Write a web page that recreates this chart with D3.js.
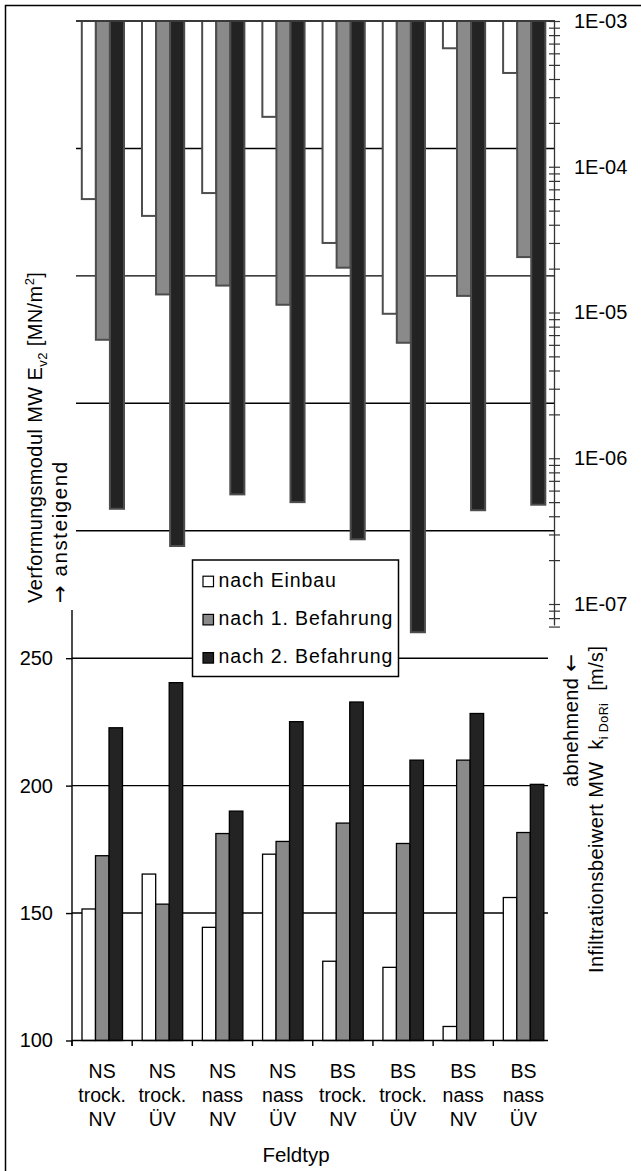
<!DOCTYPE html>
<html><head><meta charset="utf-8">
<script src="https://cdn.jsdelivr.net/npm/d3@7"></script>
<style>
body{margin:0;background:#fff}
svg{display:block}
text{font-family:"Liberation Sans",Arial,sans-serif;fill:#000}
</style>
</head><body>
<svg id="c" width="641" height="1171"></svg>
<script>
// ---- data ----
const categories = ["NS|trock.|NV","NS|trock.|ÜV","NS|nass|NV","NS|nass|ÜV","BS|trock.|NV","BS|trock.|ÜV","BS|nass|NV","BS|nass|ÜV"];
const seriesNames = ["nach Einbau","nach 1. Befahrung","nach 2. Befahrung"];
// Verformungsmodul MW Ev2 [MN/m²]
const evEinbau = [151.6,165.3,144.4,173.1,131.1,128.7,105.5,156.1];
const evBef1   = [172.5,153.5,181.2,178.1,185.3,177.3,210.0,181.6];
const evBef2   = [222.7,240.4,190.0,225.1,232.8,210.0,228.3,200.5];
// Infiltrationsbeiwert MW ki DoRi [m/s]
const kEinbau = [6.0e-5,4.6e-5,6.6e-5,2.2e-4,3.0e-5,9.8e-6,6.5e-4,4.4e-4];
const kBef1   = [6.5e-6,1.33e-5,1.53e-5,1.13e-5,2.03e-5,6.2e-6,1.3e-5,2.4e-5];
const kBef2   = [4.5e-7,2.5e-7,5.65e-7,5.0e-7,2.78e-7,6.4e-8,4.4e-7,4.8e-7];
const evTickValues = [100,150,200,250];
const evGridLow = [150,200,250];
const evGridHigh = [300,350,400,450];
const kTickValues = [1e-3,1e-4,1e-5,1e-6,1e-7];
const kTickLabels = ["1E-03","1E-04","1E-05","1E-06","1E-07"];

const fills = ["#ffffff","#8a8a8a","#232323"];
const evSeries = [evEinbau, evBef1, evBef2];
const kSeries = [kEinbau, kBef1, kBef2];

const svg = d3.select("#c");

// ---- scales ----
const x = d3.scaleBand().domain(d3.range(categories.length)).range([72,553.5]).padding(0);
const subBottom = d3.scaleBand().domain([0,1,2]).range([10,50.5]);
const subTop = d3.scaleBand().domain([0,1,2]).range([9.8,52]);
const yLin = d3.scaleLinear().domain([100,500]).range([1040.5,21]);
const yLog = d3.scaleLog().domain([1e-3,1e-7]).range([21,604]);
const kMin = 7e-8;

// frame
svg.append("path").attr("d","M5.5,1171V5.5H641").attr("fill","none").attr("stroke","#000").attr("stroke-width",1.5);

// gridlines
svg.append("g").selectAll("line").data(evGridLow).join("line")
  .attr("x1",72).attr("x2",548).attr("y1",d=>yLin(d)).attr("y2",d=>yLin(d))
  .attr("stroke","#000").attr("stroke-width",1.4);
svg.append("g").selectAll("line").data(evGridHigh).join("line")
  .attr("x1",76).attr("x2",555).attr("y1",d=>yLin(d)).attr("y2",d=>yLin(d))
  .attr("stroke","#000").attr("stroke-width",1.4);

// top bars (log, hanging)
kSeries.forEach((arr,s)=>{
  svg.append("g").selectAll("rect").data(arr).join("rect")
    .attr("x",(d,i)=>x(i)+subTop(s))
    .attr("y",yLog(1e-3))
    .attr("width",subTop.bandwidth())
    .attr("height",d=>yLog(d)-yLog(1e-3))
    .attr("fill",fills[s]).attr("stroke","#4d4d4d").attr("stroke-width",2);
});
// top baseline
svg.append("line").attr("x1",76).attr("x2",555).attr("y1",yLog(1e-3)).attr("y2",yLog(1e-3))
  .attr("stroke","#3a3a3a").attr("stroke-width",2.2);

// bottom bars
evSeries.forEach((arr,s)=>{
  svg.append("g").selectAll("rect").data(arr).join("rect")
    .attr("x",(d,i)=>x(i)+subBottom(s))
    .attr("y",d=>yLin(d))
    .attr("width",subBottom.bandwidth())
    .attr("height",d=>yLin(100)-yLin(d))
    .attr("fill",fills[s]).attr("stroke","#000").attr("stroke-width",1.3);
});

// right log axis
const minorK = [];
for(let e=-8;e<=-3;e++){for(let k=1;k<=9;k++){const v=k*Math.pow(10,e); if(v>=kMin*0.999 && v<=1e-3*1.0001) minorK.push(v);}}
svg.append("line").attr("x1",554.5).attr("x2",554.5).attr("y1",yLog(1e-3)).attr("y2",yLog(kMin)-1)
  .attr("stroke","#333").attr("stroke-width",1.3);
const rTicks = svg.append("g").attr("transform","translate(549,0)")
  .call(d3.axisRight(yLog).tickValues(minorK).tickSize(11).tickFormat(""));
rTicks.select(".domain").remove();
rTicks.selectAll("line").attr("stroke","#333").attr("stroke-width",1.2);
const rLab = svg.append("g").attr("transform","translate(554.5,0)")
  .call(d3.axisRight(yLog).tickValues(kTickValues).tickSize(0).tickPadding(19.5).tickFormat((d,i)=>kTickLabels[i]));
rLab.select(".domain").remove();
rLab.selectAll("text").attr("font-size",20).attr("font-family","Liberation Sans, Arial, sans-serif").attr("fill","#1a1a1a");

// left linear axis
svg.append("line").attr("x1",72).attr("x2",72).attr("y1",610).attr("y2",1046)
  .attr("stroke","#000").attr("stroke-width",1.4);
const lAx = svg.append("g").attr("transform","translate(72,0)")
  .call(d3.axisLeft(yLin).tickValues(evTickValues).tickSize(6).tickPadding(13));
lAx.select(".domain").remove();
lAx.selectAll("line").attr("stroke","#000").attr("stroke-width",1.4);
lAx.selectAll("text").attr("font-size",20).attr("font-family","Liberation Sans, Arial, sans-serif").attr("fill","#000");

// x axis
svg.append("line").attr("x1",72).attr("x2",548).attr("y1",yLin(100)).attr("y2",yLin(100))
  .attr("stroke","#000").attr("stroke-width",1.4);
svg.append("g").selectAll("line").data(d3.range(categories.length)).join("line")
  .attr("x1",d=>x(d)).attr("x2",d=>x(d)).attr("y1",yLin(100)).attr("y2",yLin(100)+5.5)
  .attr("stroke","#000").attr("stroke-width",1.4);

// category labels
const cl = svg.append("g").selectAll("text").data(categories).join("text")
  .attr("x",(d,i)=>x(i)+x.bandwidth()/2).attr("y",1078)
  .attr("text-anchor","middle").attr("font-size",19.5);
cl.each(function(d){
  const t=d3.select(this);
  d.split("|").forEach((p,j)=>{
    t.append("tspan").attr("x",t.attr("x")).attr("dy",j===0?0:24).text(p);
  });
});

// x title
svg.append("text").attr("x",296).attr("y",1162).attr("text-anchor","middle").attr("font-size",20.5).text("Feldtyp");

// left title
const lt = svg.append("text").attr("transform","translate(41.5,603) rotate(-90)")
  .attr("font-size",20).attr("letter-spacing",0.4);
lt.append("tspan").text("Verformungsmodul MW E");
lt.append("tspan").attr("font-size",13).attr("dy",5).text("v2");
lt.append("tspan").attr("dy",-5).text(" [MN/m");
lt.append("tspan").attr("font-size",13).attr("dy",-8).text("2");
lt.append("tspan").attr("dy",8).text("]");
const lt2 = svg.append("text").attr("transform","translate(67,603) rotate(-90)")
  .attr("font-size",20.5).attr("letter-spacing",1.6);
lt2.append("tspan").attr("font-family","DejaVu Sans").attr("font-size",21).text("\u2192");
lt2.append("tspan").text(" ansteigend");

// right title
const rt1 = svg.append("text").attr("transform","translate(578.3,787) rotate(-90)")
  .attr("font-size",20).attr("letter-spacing",0.4);
rt1.append("tspan").text("abnehmend ");
rt1.append("tspan").attr("font-family","DejaVu Sans").attr("font-size",21).text("\u2190");
const rt = svg.append("text").attr("transform","translate(603.3,973) rotate(-90)")
  .attr("font-size",20).attr("letter-spacing",0.4);
rt.append("tspan").text("Infiltrationsbeiwert MW\u00a0\u00a0k");
rt.append("tspan").attr("font-size",12.5).attr("dy",5).text("i DoRi");
rt.append("tspan").attr("dy",-5).text("\u00a0\u00a0[m/s]");

// legend
const lg = svg.append("g");
lg.append("rect").attr("x",192.5).attr("y",560).attr("width",206).attr("height",116.5)
  .attr("fill","#fff").attr("stroke","#000").attr("stroke-width",1.5);
seriesNames.forEach((n,i)=>{
  const by = 586.7 + i*38.2;
  lg.append("rect").attr("x",203).attr("y",by-10.5).attr("width",10.5).attr("height",10.5)
    .attr("fill",fills[i]).attr("stroke","#000").attr("stroke-width",1.2);
  lg.append("text").attr("x",218.5).attr("y",by).attr("font-size",19.5).attr("letter-spacing",0.9).text(n);
});
</script>
</body></html>
